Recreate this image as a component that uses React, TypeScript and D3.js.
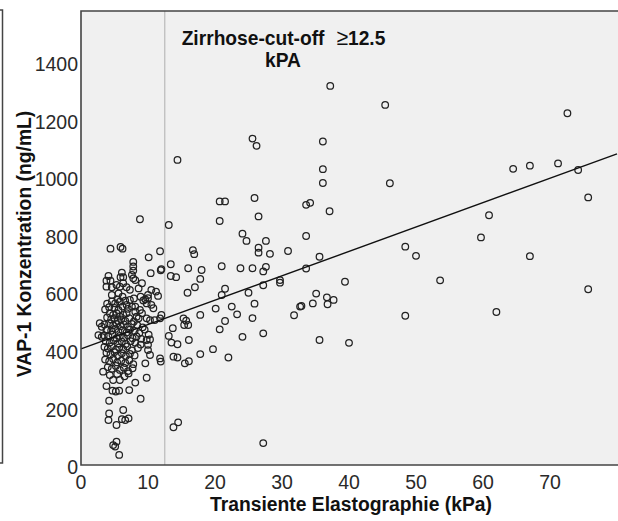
import React from "react";
import * as d3 from "d3";

// Transiente Elastographie (kPa), VAP-1 (ng/mL) — patients with TE < 12.5 kPa
const lowStiffness: [number, number][] = [
  [8.8, 853], [4.4, 751], [5.9, 757], [6.2, 751], [7.8, 705], [7.8, 689], [7.8, 675], [10.1, 721], [11.8, 742], [12.0, 680], [11.9, 676], [10.4, 666],
  [4.1, 656], [3.8, 640], [4.4, 640], [6.1, 668], [5.9, 652], [6.3, 652], [7.6, 660], [7.8, 648],
  [3.8, 619], [4.6, 617], [5.3, 625], [5.8, 619], [6.3, 631], [6.8, 617], [7.3, 608], [8.6, 613], [8.1, 642], [9.1, 631],
  [4.6, 590], [5.6, 596], [6.2, 584], [7.3, 573], [8.9, 584], [10.0, 579], [10.5, 608], [11.2, 602], [11.5, 587], [9.6, 575], [10.0, 590],
  [5.1, 561], [5.8, 567], [6.8, 556], [8.1, 550], [9.3, 571], [9.8, 561],
  [10.5, 556], [10.8, 544], [8.8, 538], [9.1, 527], [7.6, 550], [8.1, 532], [8.6, 509],
  [9.8, 509], [10.3, 503], [11.0, 503], [11.8, 509], [12.0, 521],
  [4.3, 527], [4.8, 521], [5.3, 527], [5.8, 515], [6.3, 521], [6.8, 527],
  [2.8, 492], [3.1, 480], [3.8, 469], [2.6, 451], [3.1, 445],
  [3.6, 540], [4.2, 548], [5.0, 545], [5.6, 538], [6.2, 550], [7.0, 542], [3.9, 560], [4.6, 568], [5.5, 575], [6.6, 570], [7.9, 578],
  [3.9, 512], [4.5, 505], [5.0, 510], [5.5, 500], [6.0, 505], [6.6, 500], [7.2, 510], [7.9, 498], [8.3, 515],
  [3.5, 488], [4.2, 492], [4.8, 485], [5.3, 490], [5.9, 482], [6.4, 488], [7.0, 480], [7.6, 490], [8.4, 485], [9.2, 478],
  [3.9, 470], [4.5, 466], [5.1, 472], [5.6, 462], [6.2, 468], [6.8, 460], [7.3, 470], [8.0, 465], [8.7, 458], [9.5, 470],
  [3.4, 450], [4.1, 446], [4.7, 452], [5.3, 440], [5.8, 448], [6.4, 442], [7.0, 450], [7.7, 440], [8.3, 446], [9.0, 438], [10.1, 452],
  [3.7, 430], [4.3, 425], [4.9, 432], [5.5, 422], [6.1, 428], [6.7, 420], [7.4, 430], [8.1, 424], [8.9, 418],
  [3.5, 410], [4.0, 404], [4.6, 412], [5.2, 400], [5.7, 408], [6.3, 402], [6.9, 412], [7.6, 398], [8.5, 406],
  [3.8, 390], [4.4, 384], [5.0, 392], [5.5, 380], [6.1, 388], [6.7, 378], [7.3, 386], [8.0, 380],
  [3.6, 366], [4.2, 360], [4.8, 368], [5.4, 356], [6.0, 362], [6.6, 354], [7.2, 364], [7.8, 350],
  [4.0, 340], [4.6, 334], [5.2, 344], [5.8, 330], [6.4, 338], [7.0, 326], [7.7, 336],
  [3.3, 324], [4.3, 312], [4.8, 295], [5.8, 295], [5.4, 316], [6.5, 308], [7.1, 318],
  [9.8, 303], [8.1, 286], [7.2, 260], [8.9, 230], [3.8, 274], [4.7, 258], [5.2, 255], [5.7, 258], [4.2, 223],
  [6.3, 191], [4.2, 179], [4.1, 156], [6.1, 159], [6.6, 156], [7.1, 162], [5.3, 139], [5.3, 81], [4.8, 69], [5.1, 64], [5.7, 35],
  [11.8, 370], [11.9, 359], [10.0, 399], [10.3, 382], [9.6, 353], [9.8, 434], [10.3, 436], [10.0, 417],
];

// patients with TE >= 12.5 kPa
const highStiffness: [number, number][] = [
  [37.2, 1316], [45.4, 1250], [72.6, 1221], [64.5, 1028], [67.0, 1039], [71.2, 1047], [74.2, 1024], [75.7, 929],
  [46.1, 978], [60.9, 867], [59.7, 790], [48.4, 758], [50.0, 726], [67.0, 725], [53.6, 641], [75.7, 610], [62.0, 531], [48.4, 518],
  [25.6, 1133], [26.2, 1108], [36.1, 1123], [36.1, 1027], [36.1, 979], [20.7, 915], [21.5, 915], [25.9, 927], [33.6, 903], [34.2, 910],
  [20.7, 847], [26.5, 863], [37.1, 881], [24.1, 803], [24.7, 778], [27.6, 778], [26.5, 754], [26.5, 737], [28.2, 733], [30.9, 743], [33.6, 795], [35.6, 723],
  [18.0, 677], [17.8, 646], [21.0, 690], [23.8, 683], [25.6, 683], [27.6, 688], [27.2, 672], [33.6, 682], [39.4, 636],
  [21.5, 612], [21.0, 590], [25.0, 598], [27.2, 624], [29.7, 642], [29.7, 633], [35.1, 595], [36.7, 582], [37.7, 573], [36.8, 558],
  [34.6, 561], [32.9, 552], [32.7, 550], [31.8, 520], [20.1, 543], [22.5, 550], [25.9, 560], [23.3, 523], [25.6, 510], [21.5, 500], [20.7, 471], [17.8, 521],
  [24.1, 445], [27.2, 457], [35.6, 434], [40.0, 424], [19.7, 402], [22.0, 373], [17.8, 385], [27.2, 76],
  [14.4, 1059], [13.1, 833], [16.7, 746], [16.9, 732], [13.4, 697], [16.0, 683], [13.4, 656], [14.2, 652], [17.0, 617], [15.9, 598],
  [15.3, 509], [15.7, 501], [15.4, 486], [16.0, 486], [13.7, 475], [13.1, 448], [13.5, 425], [14.4, 419], [16.1, 434],
  [13.8, 376], [14.4, 373], [15.5, 353], [16.1, 360], [13.8, 131], [14.5, 148],
];

const xTicks = [0, 10, 20, 30, 40, 50, 60, 70];
const yTicks = [0, 200, 400, 600, 800, 1000, 1200, 1400];
const cutOff = 12.5;
const fitIntercept = 403;
const fitSlope = 8.46;
const xTitle = "Transiente Elastographie (kPa)";
const yTitle = "VAP-1 Konzentration (ng/mL)";
const noteLine1 = ["Zirrhose-cut-off", "\u2265", "12.5"];
const noteLine2 = "kPA";

const W = 618;
const H = 521;
const L = 81, R = 617, T = 11, B = 465;
const FONT = "'Liberation Sans', Arial, Helvetica, sans-serif";
const SY = 1.08;

export default function App() {
  const x = d3.scaleLinear().domain([0, 80]).range([L, R]);
  const y = d3.scaleLinear().domain([0, 1576]).range([B, T]);
  const all = [...lowStiffness, ...highStiffness];
  const fit = d3.line<number>().x((v) => x(v)).y((v) => y(fitIntercept + fitSlope * v));

  return (
    <svg width={W} height={H} style={{ position: "absolute", left: 0, top: 0, background: "#fff" }} fontFamily={FONT}>
      <path d={`M0,10H2.5V463H0`} fill="none" stroke="#444" strokeWidth={1.5} />
      <rect x={L} y={T} width={W - L} height={B - T} fill="#f0f0f0" />
      <line x1={x(cutOff)} x2={x(cutOff)} y1={T} y2={B} stroke="#bdbdbd" strokeWidth={1.3} />
      <g>
        {all.map(([a, b], i) => (
          <circle key={i} cx={x(a)} cy={y(b)} r={3.3} fill="none" stroke="#222" strokeWidth={1.25} />
        ))}
      </g>
      <path d={fit([0, 80]) || ""} fill="none" stroke="#111" strokeWidth={1.4} />
      <path d={`M${W},${T}H${L}V${B}H${W}`} fill="none" stroke="#444" strokeWidth={1.6} />
      {yTicks.map((t) => (
        <text key={t} transform={`translate(78,${y(t) + 2}) scale(1,${SY})`} textAnchor="end" dominantBaseline="central" fontSize={19.5} fill="#2a2a2a">
          {t}
        </text>
      ))}
      {xTicks.map((t) => (
        <text key={t} transform={`translate(${x(t)},${B + 17}) scale(1,${SY})`} textAnchor="middle" dominantBaseline="central" fontSize={19.5} fill="#2a2a2a">
          {t}
        </text>
      ))}
      <text transform={`translate(351,511) scale(1,${SY})`} textAnchor="middle" fontSize={19.3} fontWeight="bold" fill="#111">
        {xTitle}
      </text>
      <text transform={`translate(31,244) scale(${SY},1) rotate(-90)`} textAnchor="middle" fontSize={19.3} fontWeight="bold" fill="#111">
        {yTitle}
      </text>
      <text transform={`translate(283.5,45) scale(1,${SY})`} textAnchor="middle" fontSize={19.2} fontWeight="bold" fill="#111">
        <tspan>{noteLine1[0]}</tspan>
        <tspan dx={12} fontSize={21} fontWeight="normal">{noteLine1[1]}</tspan>
        <tspan>{noteLine1[2]}</tspan>
      </text>
      <text transform={`translate(283,67) scale(1,${SY})`} textAnchor="middle" fontSize={19.2} fontWeight="bold" fill="#111">
        {noteLine2}
      </text>
    </svg>
  );
}
